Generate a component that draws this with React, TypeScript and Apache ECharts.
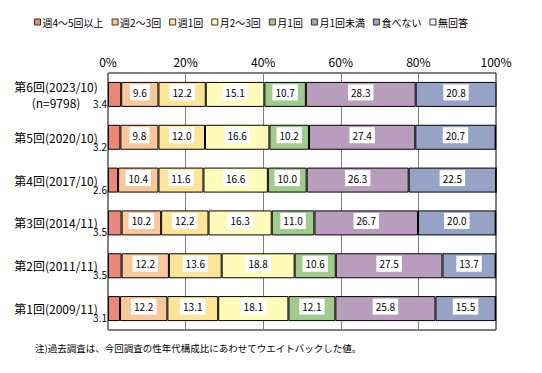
import React, { useEffect, useRef } from 'react';
import * as echarts from 'echarts';

const categories = [
  '第6回(2023/10)\n(n=9798)',
  '第5回(2020/10)',
  '第4回(2017/10)',
  '第3回(2014/11)',
  '第2回(2011/11)',
  '第1回(2009/11)',
];
const seriesNames = ['週4〜5回以上', '週2〜3回', '週1回', '月2〜3回', '月1回', '月1回未満', '食べない', '無回答'];
const weekly45 = [3.4, 3.2, 2.6, 3.5, 3.5, 3.1];
const weekly23 = [9.6, 9.8, 10.4, 10.2, 12.2, 12.2];
const weekly1 = [12.2, 12.0, 11.6, 12.2, 13.6, 13.1];
const monthly23 = [15.1, 16.6, 16.6, 16.3, 18.8, 18.1];
const monthly1 = [10.7, 10.2, 10.0, 11.0, 10.6, 12.1];
const lessMonthly = [28.3, 27.4, 26.3, 26.7, 27.5, 25.8];
const never = [20.8, 20.7, 22.5, 20.0, 13.7, 15.5];
const noAnswer = [0, 0, 0, 0, 0, 0];
const xTicks = [0, 20, 40, 60, 80, 100];
const footnote = '注)過去調査は、今回調査の性年代構成比にあわせてウエイトバックした値。';

const colors = ['#E9877B', '#F9C79A', '#FDE598', '#FFFBB8', '#A1CB8C', '#B99DBD', '#97A2C7', '#FFFFFF'];
const seriesData = [weekly45, weekly23, weekly1, monthly23, monthly1, lessMonthly, never, noAnswer];

const FONT = '"Noto Sans CJK JP", sans-serif';

export default function App() {
  const ref = useRef<HTMLDivElement>(null);
  useEffect(() => {
    if (!ref.current) return;
    const chart = echarts.init(ref.current, null, { renderer: 'svg' });
    const series = seriesData.map((data, i) => ({
      name: seriesNames[i],
      type: 'bar',
      stack: 'total',
      data,
      barWidth: 25,
      itemStyle: { color: colors[i], borderColor: '#000', borderWidth: 1 },
      label:
        i === 0
          ? {
              show: true,
              position: 'left',
              distance: 1,
              offset: [0, 9],
              color: '#000',
              fontSize: 10,
              fontFamily: FONT,
              formatter: (p: any) => p.value.toFixed(1),
            }
          : i === 7
          ? { show: false }
          : {
              show: true,
              position: 'inside',
              color: '#000',
              fontSize: 10,
              fontFamily: FONT,
              backgroundColor: '#fff',
              padding: [3, 3, 3, 3],
              offset: [0, -2],
              formatter: (p: any) => p.value.toFixed(1),
            },
      emphasis: { disabled: true },
    }));
    chart.setOption({
      animation: false,
      textStyle: { fontFamily: FONT },
      legend: {
        left: 29,
        top: 12,
        itemWidth: 6,
        itemHeight: 6,
        itemGap: 8,
        icon: 'rect',
        itemStyle: { borderColor: '#333', borderWidth: 1 },
        textStyle: { fontSize: 10, color: '#000', fontFamily: FONT, padding: [0, 0, 0, -3] },
        data: seriesNames,
        selectedMode: false,
      },
      grid: {
        left: 108,
        right: 46,
        top: 73,
        bottom: 43,
        show: true,
        borderColor: '#000',
        borderWidth: 1,
        backgroundColor: 'transparent',
        containLabel: false,
        outerBoundsMode: 'none',
      },
      xAxis: {
        type: 'value',
        position: 'top',
        min: xTicks[0],
        max: xTicks[xTicks.length - 1],
        interval: 20,
        axisLine: { show: false },
        axisTick: { show: false },
        splitLine: { show: true, lineStyle: { color: '#808080', width: 1 } },
        axisLabel: {
          margin: 6,
          color: '#000',
          fontSize: 12,
          fontFamily: FONT,
          formatter: '{value}%',
        },
      },
      yAxis: {
        type: 'category',
        inverse: true,
        data: categories,
        axisLine: { show: false },
        axisTick: { show: false },
        axisLabel: {
          interval: 0,
          hideOverlap: false,
          margin: 52,
          align: 'center',
          color: '#000',
          fontSize: 12,
          lineHeight: 16,
          fontFamily: FONT,
        },
      },
      graphic: [
        {
          type: 'text',
          left: 35,
          top: 343,
          style: { text: footnote, fontSize: 9.5, fill: '#000', fontFamily: FONT },
        },
      ],
      series,
    });
    return () => chart.dispose();
  }, []);
  return <div ref={ref} style={{ position: 'fixed', left: 0, top: 0, width: 542, height: 373, background: '#fff' }} />;
}
